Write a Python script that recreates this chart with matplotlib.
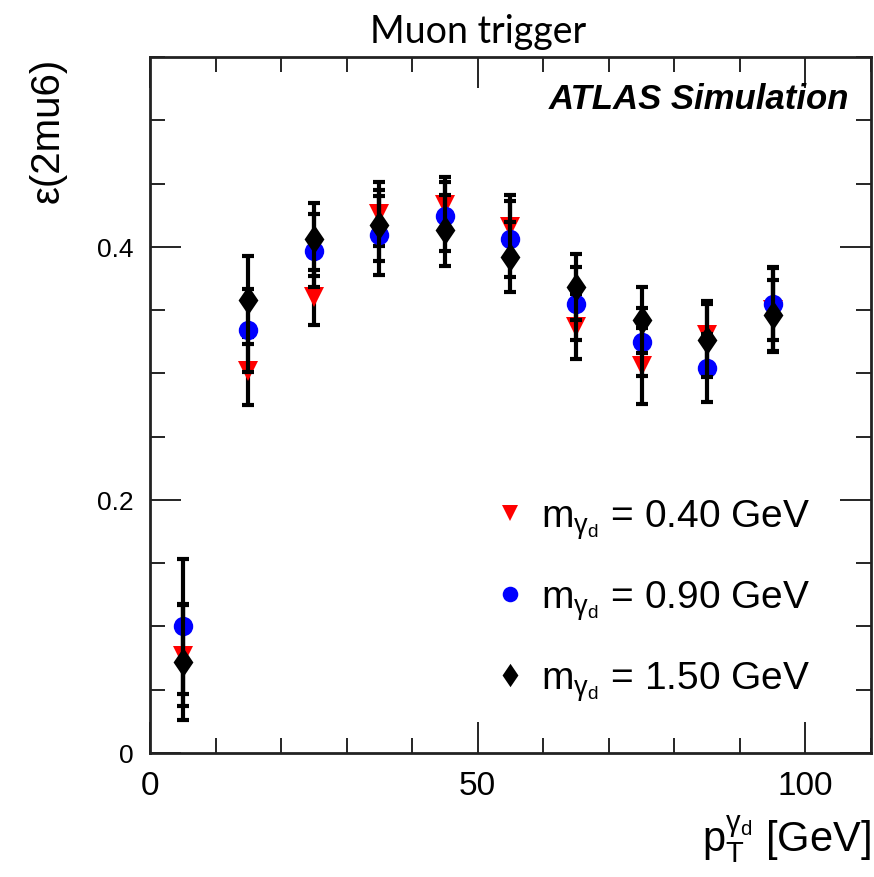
# Muon trigger efficiency vs dark photon pT, three mass points

import numpy as np
import matplotlib.pyplot as plt
from matplotlib.ticker import MultipleLocator
from matplotlib.path import Path

plt.rcParams['font.family'] = ['Liberation Sans', 'DejaVu Sans']
plt.rcParams['mathtext.fontset'] = 'custom'
plt.rcParams['mathtext.rm'] = 'Liberation Sans'
plt.rcParams['mathtext.it'] = 'Liberation Sans'

pt = [5, 15, 25, 35, 45, 55, 65, 75, 85, 95]

eff_040 = [0.077, 0.302, 0.360, 0.426, 0.433, 0.416, 0.337, 0.306, 0.330, 0.350]
err_040 = [0.040, 0.027, 0.022, 0.025, 0.022, 0.025, 0.026, 0.030, 0.027, 0.033]

eff_090 = [0.100, 0.334, 0.397, 0.409, 0.424, 0.406, 0.355, 0.325, 0.304, 0.355]
err_090 = [0.053, 0.033, 0.029, 0.031, 0.027, 0.030, 0.029, 0.027, 0.027, 0.029]

eff_150 = [0.072, 0.358, 0.406, 0.417, 0.413, 0.392, 0.368, 0.342, 0.326, 0.346]
err_150 = [0.046, 0.035, 0.029, 0.028, 0.028, 0.028, 0.026, 0.026, 0.029, 0.028]

labels = [r"$\mathregular{m_{\gamma_{d}}}$ = 0.40 GeV",
          r"$\mathregular{m_{\gamma_{d}}}$ = 0.90 GeV",
          r"$\mathregular{m_{\gamma_{d}}}$ = 1.50 GeV"]

# ROOT style diamond, taller than wide
diamond = Path([(0, 1), (0.68, 0), (0, -1), (-0.68, 0), (0, 1)],
               [Path.MOVETO, Path.LINETO, Path.LINETO, Path.LINETO, Path.CLOSEPOLY])

fig = plt.figure(figsize=(8.74, 8.78), dpi=100)
ax = fig.add_axes([150/874, 1 - 754/878, 721/874, 696/878])

series = [
    (eff_040, err_040, 'v', 'red', 14),
    (eff_090, err_090, 'o', 'blue', 14),
    (eff_150, err_150, diamond, 'black', 21),
]
handles = []
for (eff, err, mk, col, ms), lab in zip(series, labels):
    ax.errorbar(pt, eff, yerr=err, fmt='none', ecolor='black',
                elinewidth=3, capsize=4, capthick=3)
    h, = ax.plot(pt, eff, linestyle='none', marker=mk, color=col,
                 markersize=ms, markeredgewidth=0, label=lab)
    handles.append(h)

ax.set_xlim(0, 110)
ax.set_ylim(0, 0.55)
ax.xaxis.set_major_locator(MultipleLocator(50))
ax.xaxis.set_minor_locator(MultipleLocator(10))
ax.yaxis.set_minor_locator(MultipleLocator(0.05))
ax.set_yticks([0, 0.2, 0.4])
ax.set_yticklabels(['0', '0.2', '0.4'])
ax.tick_params(which='both', direction='in', top=True, right=True, width=1.2)
ax.tick_params(which='major', length=22)
ax.tick_params(which='minor', length=11)
ax.tick_params(axis='x', labelsize=24, pad=12)
ax.tick_params(axis='y', labelsize=19, pad=12)
for s in ax.spines.values():
    s.set_linewidth(2)
    s.set_color('#222222')

ax.set_ylabel(r"ε(2mu6)", fontsize=29, loc='top', labelpad=22)
ax.set_xlabel(r"$\mathregular{p_{T}^{\gamma_{d}}}$ [GeV]", fontsize=30, loc='right', labelpad=8)

fig.text(478/874, 1 - 32/878, "Muon trigger", ha='center', va='center',
         fontsize=27, family=['Lato', 'DejaVu Sans'])

ax.text(0.97, 0.94, "ATLAS Simulation", transform=ax.transAxes, ha='right',
        va='center', fontsize=25, fontweight='bold', fontstyle='italic')

ax.legend(handles=handles, loc='lower right', bbox_to_anchor=(0.965, 0.022),
          frameon=False, fontsize=28, labelspacing=0.95, handletextpad=0.3,
          handlelength=1.0, markerscale=0.8)

plt.savefig("out.png", dpi=100)
